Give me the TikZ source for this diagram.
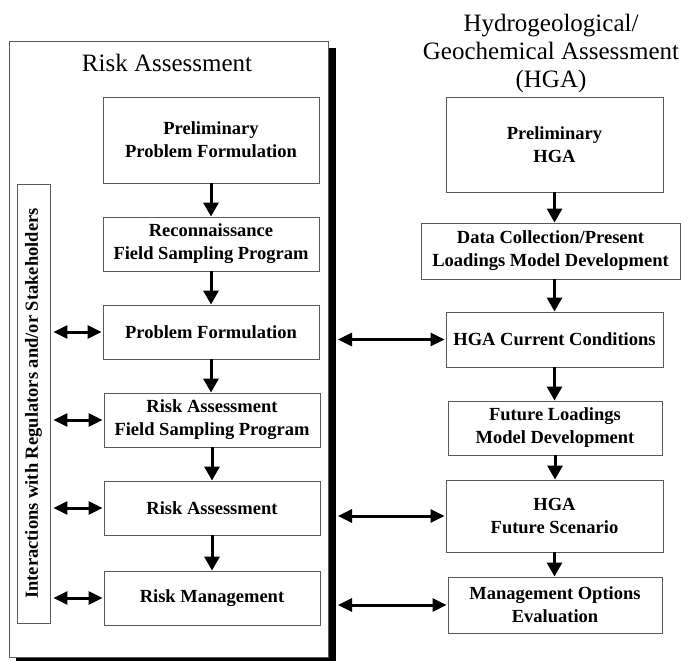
\documentclass[tikz,border=0pt]{standalone}
\usepackage{fontspec}
\setmainfont{Liberation Serif}
\usetikzlibrary{arrows.meta}
\begin{document}
\begin{tikzpicture}[x=1pt,y=-1pt,
    stepbox/.style={draw=black!65, line width=0.9pt, fill=white, align=center, inner sep=2pt,
        font=\bfseries\fontsize{18.5}{23}\selectfont},
    flow/.style={line width=3pt, -{Triangle[length=14pt,width=15pt]}},
    dbl/.style={line width=3pt, {Triangle[length=14pt,width=13pt]}-{Triangle[length=14pt,width=13pt]}},
    heading/.style={align=center, font=\fontsize{25}{28}\selectfont}]
    \useasboundingbox (0,0) rectangle (681,661);
    %% Outer frame of the risk assessment column with its black shadow
    \fill[black] (16,48) rectangle (336,664);
    \draw[draw=black!65, line width=0.9pt, fill=white] (9,41) rectangle (328,657);
    \node[heading] (ratitle) at (167,63) {Risk Assessment};
    \node[heading] (hgatitle) at (551,53) {Hydrogeological/\\Geochemical Assessment\\(HGA)};
    %% Left column
    \node[stepbox, minimum width=216pt, minimum height=86pt] (prelim) at (211,140) {Preliminary\\Problem Formulation};
    \node[stepbox, minimum width=216pt, minimum height=54pt] (recon) at (211,244) {Reconnaissance\\Field Sampling Program};
    \node[stepbox, minimum width=216pt, minimum height=54pt] (probform) at (211,332) {Problem Formulation};
    \node[stepbox, minimum width=216pt, minimum height=54pt] (rafield) at (212,420) {Risk Assessment\\Field Sampling Program};
    \node[stepbox, minimum width=216pt, minimum height=54pt] (riskass) at (212,508) {Risk Assessment};
    \node[stepbox, minimum width=216pt, minimum height=54pt] (riskmgmt) at (212,598) {Risk Management};
    %% Vertical side box
    \node[stepbox, rotate=90, minimum width=439pt, minimum height=33pt, inner sep=0pt] (inter) at (33.5,403.5)
        {Interactions with Regulators and/or Stakeholders};
    %% Right column
    \node[stepbox, minimum width=217pt, minimum height=95pt] (prehga) at (554.5,144.5) {Preliminary\\HGA};
    \node[stepbox, minimum width=259pt, minimum height=56pt] (datacoll) at (550.5,251) {Data Collection/Present\\Loadings Model Development};
    \node[stepbox, minimum width=217pt, minimum height=55pt] (curr) at (554.5,339.5) {HGA Current Conditions};
    \node[stepbox, minimum width=214pt, minimum height=54pt] (futload) at (555,428) {Future Loadings\\Model Development};
    \node[stepbox, minimum width=217pt, minimum height=72pt] (futscen) at (554.5,516) {HGA\\Future Scenario};
    \node[stepbox, minimum width=214pt, minimum height=56pt] (mgmtopt) at (555,605) {Management Options\\Evaluation};
    \coordinate (shadowedge) at (338,0);
    %% Arrows down the columns
    \draw[flow] (prelim) -- (recon);
    \draw[flow] (recon) -- (probform);
    \draw[flow] (probform) -- (probform |- rafield.north);
    \draw[flow] (rafield) -- (riskass);
    \draw[flow] (riskass) -- (riskmgmt);
    \draw[flow] (prehga) -- (prehga |- datacoll.north);
    \draw[flow] (prehga |- datacoll.south) -- (curr);
    \draw[flow] (curr) -- (curr |- futload.north);
    \draw[flow] (futload) -- (futload |- futscen.north);
    \draw[flow] (futscen) -- (futscen |- mgmtopt.north);
    %% Two-way arrows
    \foreach \stage in {probform,rafield,riskass,riskmgmt}
        \draw[dbl] ([xshift=3pt]\stage.west -| inter.south) -- ([xshift=-1pt]\stage.west);
    \foreach \stage in {curr,futscen,mgmtopt}
        \draw[dbl] (shadowedge |- \stage.west) -- ([xshift=-1pt]\stage.west);
\end{tikzpicture}
\end{document}
